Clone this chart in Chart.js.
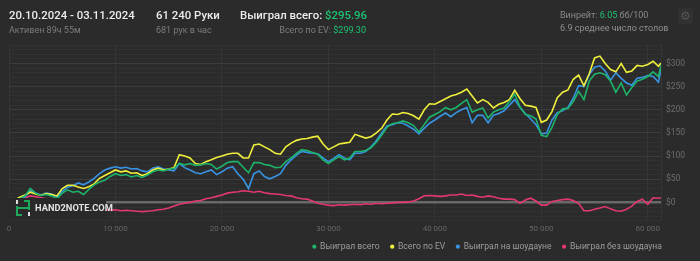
<!DOCTYPE html>
<html>
<head>
<meta charset="utf-8">
<style>
  html, body { margin: 0; padding: 0; background: #2b2b2b; }
  body { width: 700px; height: 261px; position: relative; overflow: hidden; font-family: Roboto, "Noto Sans", sans-serif; }
  #c { position: absolute; left: 0; top: 0; }
  .t { position: absolute; white-space: nowrap; }
  .big { font-size: 11.4px; font-weight: 500; color: #ececec; line-height: 14px; }
  .small { font-size: 9px; color: #7c7c7c; line-height: 12px; }
  .g { color: #1fc173; }
  #wm { position: absolute; left: 9px; top: 198px; width: 97px; height: 20px; background: #292929; }
  #wm span { position: absolute; left: 26px; top: 4px; font-size: 9.3px; font-weight: 700; color: #e2e2e2; }
  #gear { position: absolute; left: 678px; top: 8px; width: 15px; height: 16px; border-radius: 3px; background: #313131; color: #555; font-size: 12px; line-height: 16px; text-align: center; }
</style>
</head>
<body>
<canvas id="c" width="700" height="261"></canvas>

<div class="t big" style="left:9px;top:8px">20.10.2024 - 03.11.2024</div>
<div class="t small" style="left:9px;top:24px">Активен 89ч 55м</div>
<div class="t big" style="left:156px;top:8px">61 240 Руки</div>
<div class="t small" style="left:156px;top:24px">681 рук в час</div>
<div class="t big" style="left:240px;top:8px">Выиграл всего: <span class="g">$295.96</span></div>
<div class="t small" style="right:334px;top:24px">Всего по EV: <span class="g">$299.30</span></div>
<div class="t small" style="left:560px;top:9px;color:#8a8a8a">Винрейт: <span class="g">6.05</span> бб/100</div>
<div class="t small" style="left:560px;top:22px;color:#8f8f8f">6.9 среднее число столов</div>
<div id="gear">⚙</div>

<div id="wm">
  <svg width="16" height="16" style="position:absolute;left:6px;top:2px" viewBox="0 0 16 16">
    <rect x="1" y="0" width="2" height="4" fill="#e0e0e0"/>
    <rect x="13" y="12" width="2" height="4" fill="#e0e0e0"/>
    <path d="M2 6 V15 H7 M14 10 V1 H9 M2 8 H14" stroke="#1fa85a" stroke-width="2" fill="none"/>
  </svg>
  <span>HAND<span class="g" style="position:static;font-size:9.3px">2</span>NOTE.COM</span>
</div>

<script src="https://cdn.jsdelivr.net/npm/chart.js@4.4.2/dist/chart.umd.min.js"></script>
<script>
// hands played (x axis)
const hands = [
  0, 500, 1000, 1500, 2000, 2500, 3000, 3500, 4000, 4500,
  5000, 5500, 6000, 6500, 7000, 7500, 8000, 8500, 9000, 9500,
  10000, 10500, 11000, 11500, 12000, 12500, 13000, 13500, 14000, 14500,
  15000, 15500, 16000, 16500, 17000, 17500, 18000, 18500, 19000, 19500,
  20000, 20500, 21000, 21500, 22000, 22500, 23000, 23500, 24000, 24500,
  25000, 25500, 26000, 26500, 27000, 27500, 28000, 28500, 29000, 29500,
  30000, 30500, 31000, 31500, 32000, 32500, 33000, 33500, 34000, 34500,
  35000, 35500, 36000, 36500, 37000, 37500, 38000, 38500, 39000, 39500,
  40000, 40500, 41000, 41500, 42000, 42500, 43000, 43500, 44000, 44500,
  45000, 45500, 46000, 46500, 47000, 47500, 48000, 48500, 49000, 49500,
  50000, 50500, 51000, 51500, 52000, 52500, 53000, 53500, 54000, 54500,
  55000, 55500, 56000, 56500, 57000, 57500, 58000, 58500, 59000, 59500,
  60000, 60500, 61000, 61240
];

const xTicks = [0, 10000, 20000, 30000, 40000, 50000, 60000];

// Выиграл всего
const wonTotal = [
  0, 3, 8, 14, 30, 20, 15, 17, 14, 8,
  20, 27, 22, 24, 17, 28, 38, 44, 48, 56,
  62, 58, 60, 55, 58, 54, 59, 66, 70, 68,
  72, 73, 84, 81, 84, 80, 81, 84, 82, 72,
  78, 86, 88, 88, 76, 64, 86, 86, 82, 80,
  75, 76, 88, 96, 106, 114, 112, 108, 104, 92,
  84, 92, 99, 92, 96, 110, 110, 112, 118, 130,
  145, 162, 170, 172, 176, 172, 166, 152, 168, 184,
  190, 196, 205, 200, 205, 214, 222, 195, 200, 204,
  182, 195, 200, 204, 218, 234, 206, 190, 187, 180,
  145, 142, 162, 190, 202, 203, 218, 240, 222, 262,
  277, 280, 276, 262, 238, 258, 232, 248, 262, 266,
  272, 282, 272, 296
];

// Всего по EV
const evTotal = [
  0, 4, 11, 16, 22, 18, 15, 19, 17, 14,
  30, 37, 37, 33, 30, 34, 40, 52, 58, 64,
  70, 66, 68, 63, 64, 58, 62, 70, 74, 70,
  72, 75, 103, 100, 96, 84, 82, 88, 92, 97,
  100, 104, 106, 106, 96, 96, 124, 126, 120, 114,
  106, 104, 120, 128, 134, 137, 138, 141, 143, 126,
  114, 120, 126, 128, 130, 147, 143, 139, 142, 150,
  160, 178, 191, 190, 194, 192, 187, 180, 200, 213,
  212, 218, 224, 230, 233, 238, 245, 230, 215, 222,
  216, 204, 212, 216, 222, 242, 224, 210, 208, 205,
  173, 178, 196, 226, 238, 243, 266, 275, 252, 278,
  312, 316, 300, 287, 282, 300, 281, 284, 296, 294,
  298, 305, 294, 301
];

// Выиграл на шоудауне
const wonShowdown = [
  0, 2, 6, 12, 25, 20, 16, 20, 18, 12,
  24, 33, 36, 42, 38, 44, 52, 62, 70, 74,
  77, 74, 76, 72, 73, 68, 66, 74, 77, 72,
  70, 68, 84, 75, 70, 64, 62, 66, 70, 60,
  66, 74, 77, 62, 50, 30, 62, 68, 56, 51,
  56, 62, 80, 92, 102, 110, 108, 106, 105, 96,
  88, 95, 103, 96, 92, 106, 106, 110, 120, 133,
  150, 165, 168, 172, 171, 165, 158, 148, 160, 171,
  178, 186, 193, 185, 194, 200, 205, 172, 188, 188,
  172, 188, 192, 198, 210, 222, 205, 192, 180, 168,
  148, 150, 178, 194, 198, 205, 225, 252, 250, 276,
  292, 295, 284, 264, 280, 268, 258, 253, 268, 270,
  274, 272, 260, 288
];

// Выиграл без шоудауна
const wonNonShowdown = [
  0, 2, 6, 10, 14, 12, 10, 8, 6, 3,
  2, 0, -3, -6, -8, -10, -12, -14, -16, -17,
  -16, -18, -17, -18, -19, -20, -19, -18, -16, -15,
  -12, -8, -4, -2, 0, 3, 4, 8, 10, 13,
  16, 20, 22, 23, 25, 24, 22, 24, 21, 19,
  18, 17, 15, 14, 10, 8, 7, 3, -2, -4,
  -6, -7, -5, -6, -5, -4, -5, -3, -4, -2,
  -3, -2, -1, 0, 0, 1, 3, 8, 14, 15,
  14, 13, 14, 16, 16, 18, 15, 16, 13, 11,
  14, 12, 9, 7, 7, 6, -2, 5, 9, 3,
  -6, -6, 2, 4, 6, 7, 4, -2, -18, -18,
  -15, -12, -9, -14, -18, -19, -15, -8, 2, 7,
  -4, 10, 9, 10
];

const seriesNames = ['Выиграл всего', 'Всего по EV', 'Выиграл на шоудауне', 'Выиграл без шоудауна'];
const seriesColors = ['#1db36a', '#f0f03c', '#3894e2', '#e2386f'];
const seriesValues = [wonTotal, evTotal, wonShowdown, wonNonShowdown];

function toPoints(values) {
  return hands.map((h, i) => ({ x: h, y: values[i] }));
}

function spaced(v) {
  return String(v).replace(/\B(?=(\d{3})+(?!\d))/g, ' ');
}

// push legend so it ends at the right edge of the plot
const legendShift = {
  id: 'legendShift',
  afterLayout(chart) {
    chart.legend.right = 673;
  }
};

new Chart(document.getElementById('c'), {
  type: 'line',
  data: {
    datasets: seriesValues.map((vals, i) => ({
      label: seriesNames[i],
      data: toPoints(vals),
      borderColor: seriesColors[i],
      backgroundColor: seriesColors[i],
      borderWidth: 1.6,
      pointRadius: 0,
      tension: 0
    }))
  },
  options: {
    responsive: false,
    animation: false,
    devicePixelRatio: 1,
    layout: { padding: { left: 9, top: 45 } },
    scales: {
      x: {
        type: 'linear',
        min: 0,
        max: 61240,
        grid: { color: '#363636', drawTicks: false },
        border: { display: false },
        afterBuildTicks(axis) { axis.ticks = xTicks.map(v => ({ value: v })); },
        ticks: {
          autoSkip: false,
          padding: 3,
          color: '#666',
          font: { family: 'Roboto', size: 8 },
          maxRotation: 0,
          callback: v => spaced(v)
        },
        afterFit(scale) { scale.height = 10.5; }
      },
      y: {
        position: 'right',
        min: -40,
        max: 340,
        grid: {
          drawTicks: false,
          color: c => c.tick.value === 0 ? '#686868' : (c.tick.value % 50 === 0 ? '#3c3c3c' : '#313131'),
          lineWidth: c => c.tick.value === 0 ? 2.5 : 1
        },
        border: { display: true, color: '#363636' },
        ticks: {
          stepSize: 10,
          autoSkip: false,
          padding: 5,
          color: '#6e6e6e',
          font: { family: 'Roboto', size: 8.5 },
          callback: v => (v % 50 === 0 && v >= 0) ? '$' + v : ''
        },
        afterFit(scale) { scale.width = 39; }
      }
    },
    plugins: {
      tooltip: { enabled: false },
      legend: {
        position: 'bottom',
        align: 'end',
        labels: {
          usePointStyle: true,
          pointStyle: 'circle',
          boxWidth: 3,
          boxHeight: 3,
          padding: 11,
          color: '#9c9c9c',
          font: { family: 'Roboto', size: 8.6 },
          generateLabels(chart) {
            return Chart.defaults.plugins.legend.labels.generateLabels(chart)
              .map(l => Object.assign(l, { lineWidth: 0 }));
          }
        }
      }
    }
  },
  plugins: [legendShift]
});
</script>
</body>
</html>
